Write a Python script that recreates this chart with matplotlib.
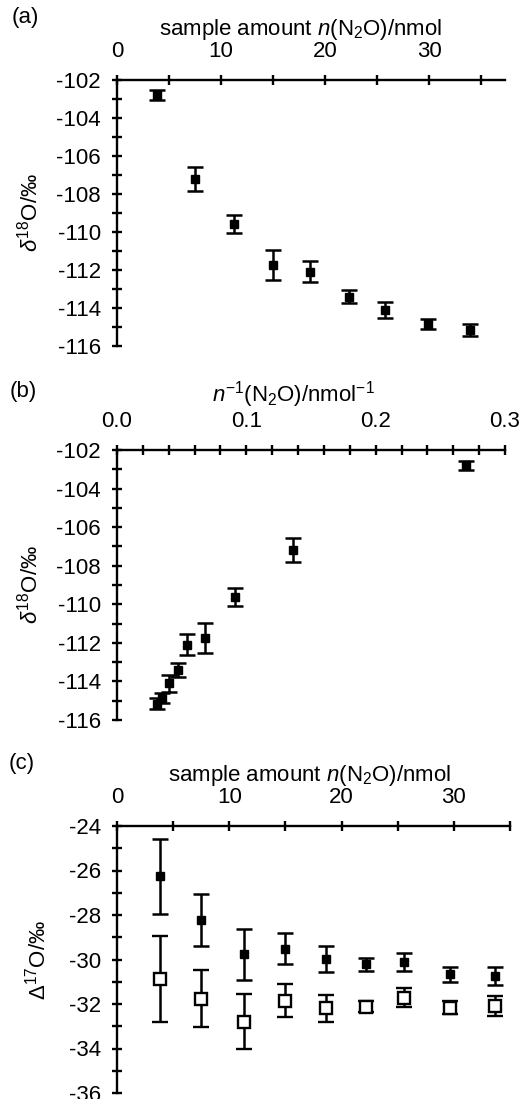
import matplotlib
matplotlib.use("Agg")
import matplotlib.pyplot as plt
from matplotlib.ticker import MultipleLocator, FormatStrFormatter

plt.rcParams['font.family'] = ['Liberation Sans', 'DejaVu Sans']
plt.rcParams['mathtext.fontset'] = 'custom'
plt.rcParams['mathtext.rm'] = 'Liberation Sans'
plt.rcParams['mathtext.it'] = 'Liberation Sans:italic'
plt.rcParams['mathtext.bf'] = 'Liberation Sans:bold'
plt.rcParams['axes.unicode_minus'] = False

# (a) delta18O vs sample amount
n_a = [3.85, 7.5, 11.25, 15.0, 18.6, 22.3, 25.8, 29.9, 33.9]
d18O = [-102.8, -107.2, -109.6, -111.75, -112.1, -113.4, -114.1, -114.85, -115.15]
d18O_err = [0.25, 0.63, 0.47, 0.79, 0.55, 0.35, 0.44, 0.25, 0.3]

# (b) delta18O vs 1/n
inv_n = [0.270, 0.136, 0.091, 0.068, 0.054, 0.047, 0.040, 0.035, 0.031]

# (c) Delta17O vs sample amount, filled and open series
n_c = [3.87, 7.44, 11.34, 14.97, 18.57, 22.17, 25.57, 29.7, 33.7]
D17_filled = [-26.26, -28.23, -29.77, -29.52, -29.99, -30.22, -30.1, -30.67, -30.73]
D17_filled_err = [1.68, 1.17, 1.14, 0.70, 0.58, 0.29, 0.40, 0.34, 0.40]
D17_open = [-30.88, -31.77, -32.79, -31.85, -32.19, -32.12, -31.71, -32.16, -32.09]
D17_open_err = [1.92, 1.28, 1.25, 0.73, 0.61, 0.26, 0.43, 0.30, 0.45]

W, H = 525, 1099
FS = 16
fig = plt.figure(figsize=(W / 100, H / 100), dpi=100)


def make_ax(left, right, top, bottom):
    return fig.add_axes([left / W, 1 - bottom / H, (right - left) / W, (bottom - top) / H])


def style(ax, xmaj, xmin, ymaj, ymin):
    for s in ['right', 'bottom']:
        ax.spines[s].set_visible(False)
    for s in ['left', 'top']:
        ax.spines[s].set_linewidth(1.7)
    ax.xaxis.tick_top()
    ax.xaxis.set_label_position('top')
    ax.xaxis.set_major_locator(MultipleLocator(xmaj))
    ax.xaxis.set_minor_locator(MultipleLocator(xmin))
    ax.yaxis.set_major_locator(MultipleLocator(ymaj))
    ax.yaxis.set_minor_locator(MultipleLocator(ymin))
    ax.tick_params(which='both', direction='inout', length=7, width=1.7, labelsize=FS)
    ax.tick_params(axis='x', which='both', pad=9.5)
    ax.tick_params(axis='y', which='both', pad=8)
    ax.patch.set_visible(False)


eb = dict(fmt='s', color='black', ms=6.3, elinewidth=1.8, capsize=5.8, capthick=1.8, clip_on=False)

# panel a
ax1 = make_ax(117, 505, 80, 346)
ax1.errorbar(n_a, d18O, yerr=d18O_err, **eb)
ax1.set_xlim(0, 37.3)
ax1.set_ylim(-116, -102)
style(ax1, 10, 5, 2, 1)
ax1.set_xlabel('sample amount $n$(N$_2$O)/nmol', fontsize=FS, labelpad=4)
ax1.xaxis.label.set_x(0.474)
ax1.set_ylabel(r'$\delta^{18}$O/‰', fontsize=16)
ax1.yaxis.set_label_coords(-0.193, 0.5)

# panel b
ax2 = make_ax(117, 505, 450, 720)
ax2.errorbar(inv_n, d18O, yerr=d18O_err, **eb)
ax2.set_xlim(0, 0.3)
ax2.set_ylim(-116, -102)
style(ax2, 0.1, 0.02, 2, 1)
ax2.xaxis.set_major_formatter(FormatStrFormatter('%.1f'))
ax2.set_xlabel('$n^{-1}$(N$_2$O)/nmol$^{-1}$', fontsize=FS, labelpad=7)
ax2.xaxis.label.set_x(0.454)
ax2.set_ylabel(r'$\delta^{18}$O/‰', fontsize=16)
ax2.yaxis.set_label_coords(-0.193, 0.5)

# panel c
ax3 = make_ax(117, 510, 826, 1093)
ax3.errorbar(n_c, D17_open, yerr=D17_open_err, fmt='s', color='black', mfc='white',
             ms=9, mew=1.7, elinewidth=1.8, capsize=5.5, capthick=1.8, clip_on=False)
ax3.errorbar(n_c, D17_filled, yerr=D17_filled_err, **eb)
ax3.set_xlim(0, 35)
ax3.set_ylim(-36, -24)
style(ax3, 10, 5, 2, 1)
ax3.set_xlabel('sample amount $n$(N$_2$O)/nmol', fontsize=FS, labelpad=4)
ax3.xaxis.label.set_x(0.491)
ax3.set_ylabel(r'$\Delta^{17}$O/‰', fontsize=16)
ax3.yaxis.set_label_coords(-0.170, 0.5)

fig.text(25 / W, 1 - 18 / H, '(a)', fontsize=FS, ha='center', va='center')
fig.text(23 / W, 1 - 391 / H, '(b)', fontsize=FS, ha='center', va='center')
fig.text(22 / W, 1 - 763 / H, '(c)', fontsize=FS, ha='center', va='center')

fig.savefig('out.png', dpi=100)
